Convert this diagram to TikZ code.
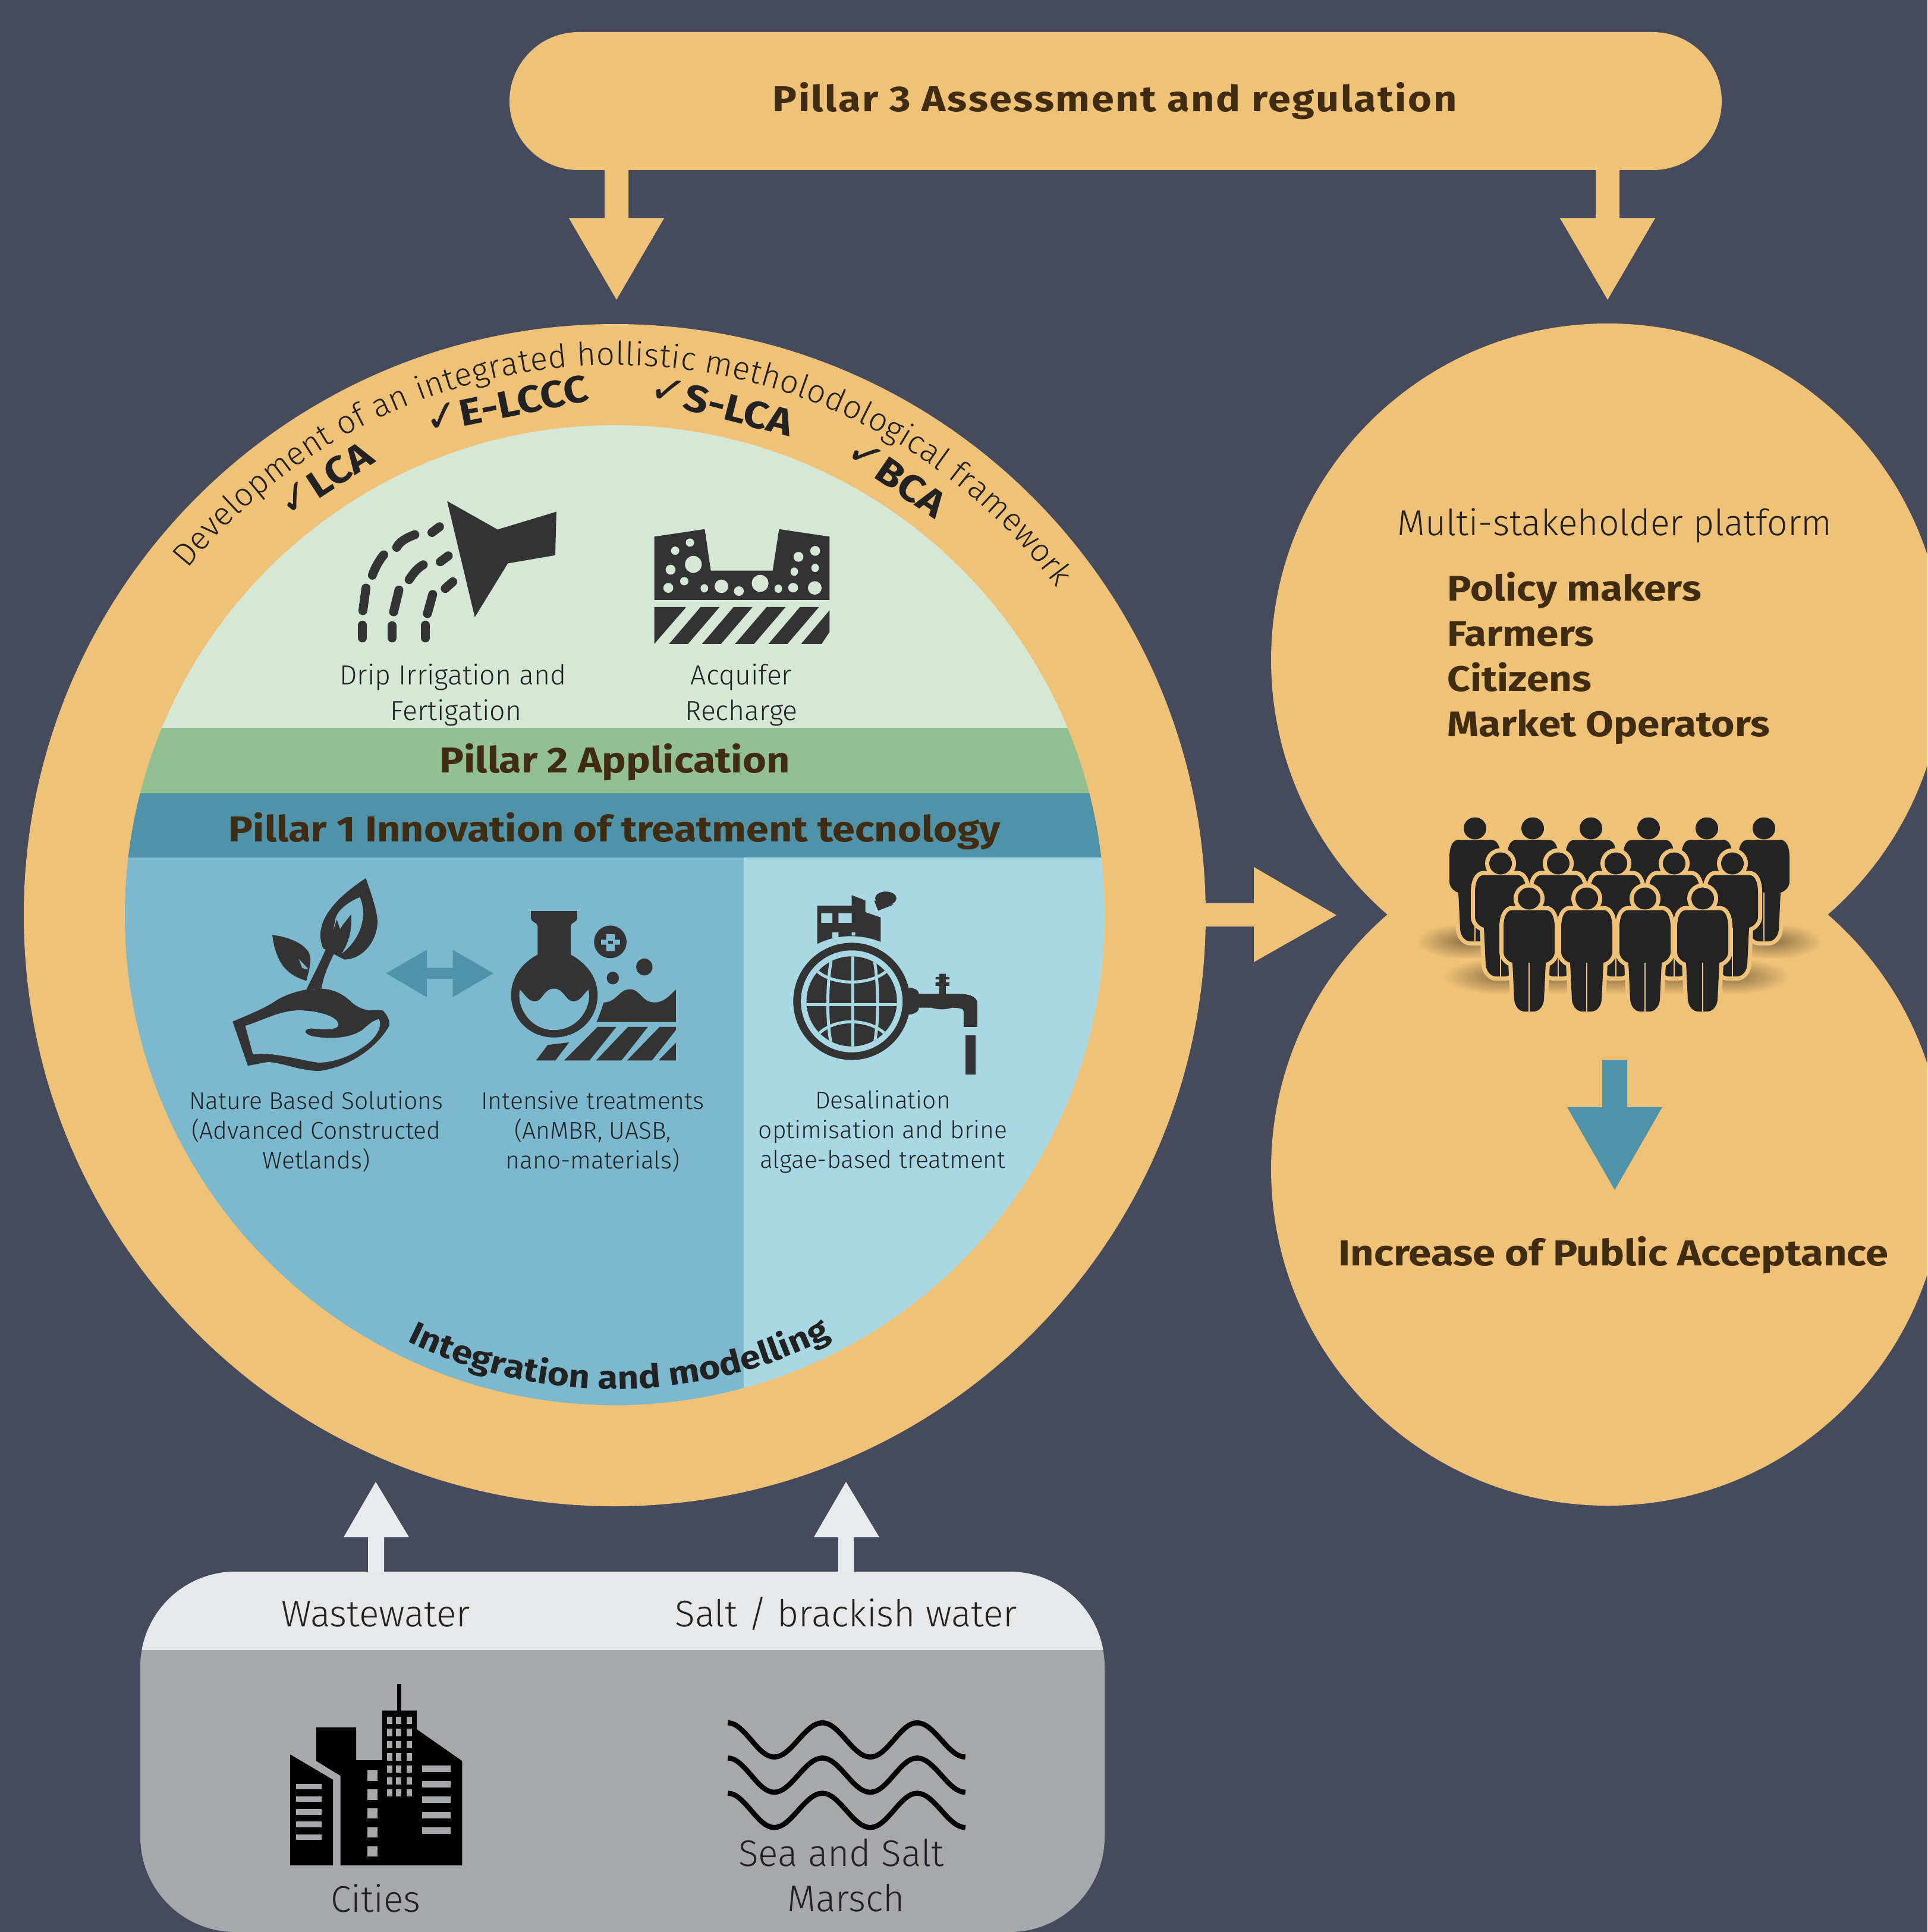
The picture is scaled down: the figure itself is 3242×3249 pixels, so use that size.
\documentclass[tikz,border=0pt]{standalone}
\usepackage{fontspec}
\usetikzlibrary{decorations.text,fadings}
\setmainfont{Fira Sans}[UprightFont=* Light,BoldFont=* Bold,BoldFeatures={FakeStretch=1.13}]
\newfontfamily\checkfont{DejaVu Sans}
\tikzfading[name=softout,inner color=transparent!0,outer color=transparent!100]
\definecolor{bgc}{HTML}{454A5C}
\definecolor{orangec}{HTML}{F0C277}
\definecolor{lgreen}{HTML}{D5E7D5}
\definecolor{mgreen}{HTML}{93C092}
\definecolor{tealc}{HTML}{5093A8}
\definecolor{bluec}{HTML}{7CB9CE}
\definecolor{lblue}{HTML}{A9D8E5}
\definecolor{iconc}{HTML}{333333}
\definecolor{textc}{HTML}{222222}
\definecolor{brownc}{HTML}{3F2C12}
\definecolor{panelc}{HTML}{A7A8AC}
\definecolor{headc}{HTML}{E7E8EA}
\definecolor{arrowc}{HTML}{E9EAEC}
\definecolor{peoplec}{HTML}{232323}
\definecolor{shadowc}{HTML}{4A3E28}
\tikzset{
  zmone/.style={shift={(500,780)},x=.006378cm,y=-.003333cm},
  zmtwo/.style={shift={(340,1450)},x=.008546cm,y=-.003571cm},
  zmfour/.style={shift={(440,2780)},x=.008292cm,y=-.003333cm},
  head/.style={font=\fontsize{17.2}{20}\selectfont\bfseries,text=brownc,inner sep=0pt},
  small/.style={font=\fontsize{11.6}{14.2}\selectfont,text=textc,align=center,inner sep=0pt},
  mid/.style={font=\fontsize{13.2}{17}\selectfont,text=textc,align=center,inner sep=0pt},
  big/.style={font=\fontsize{17.7}{21}\selectfont,text=textc,align=center,inner sep=0pt},
  stake/.style={font=\fontsize{17}{20}\selectfont\bfseries,text=brownc,anchor=base west,inner sep=0pt},
  chk/.style={font=\fontsize{18}{20}\selectfont\bfseries,text=textc,inner sep=0pt},
  drip/.style={draw=iconc,line width=.15cm,line cap=round},
  wavy/.style={draw=black,line width=.085cm},
}
\newcommand{\chkm}{{\checkfont\mdseries\fontsize{20}{20}\selectfont ✓}}
\newcommand{\bodypath}{(-28,19.5) -- (28,19.5) .. controls (38,19.5) and (43,32) .. (43,48) -- (43,90) .. controls (43,98) and (36,106) .. (28,108) -- (25,170) .. controls (24,182) and (16,190) .. (8,190) -- (-8,190) .. controls (-16,190) and (-24,182) .. (-25,170) -- (-28,108) .. controls (-36,106) and (-43,98) .. (-43,90) -- (-43,48) .. controls (-43,32) and (-38,19.5) .. (-28,19.5) -- cycle (0,0) ellipse[x radius=19,y radius=18.5]}
\newcommand{\personfig}[2]{\begin{scope}[shift={(#1,#2)}]
  \draw[orangec,line width=.14cm] \bodypath;
  \fill[peoplec] \bodypath;
  \draw[orangec,line width=.026cm] (0,108) -- (0,190);
\end{scope}}
\begin{document}
\begin{tikzpicture}[x=.01cm,y=-.01cm]
\useasboundingbox (0,0) rectangle (3242,3249);
\clip (0,0) rectangle (3242,3249);
\fill[bgc] (0,0) rectangle (3242,3249);

% top pill and arrows
\fill[orangec,rounded corners=1.16cm] (857,54) rectangle (2896,286);
\node[head] (pillar3) at (1875,170) {\addfontfeatures{LetterSpace=4.3}Pillar 3 Assessment and regulation};
\fill[orangec] (1017,280) -- (1057,280) -- (1057,367) -- (1117,367) -- (1037,504) -- (957,367) -- (1017,367) -- cycle;
\fill[orangec] (2684,280) -- (2724,280) -- (2724,367) -- (2784,367) -- (2704,504) -- (2624,367) -- (2684,367) -- cycle;

% big circle
\fill[orangec] (1034,1539) circle[radius=994];
\begin{scope}
  \clip (1034,1539) circle[radius=824];
  \fill[lgreen] (200,700) rectangle (1870,1224);
  \fill[mgreen] (200,1224) rectangle (1870,1334);
  \fill[tealc] (200,1334) rectangle (1870,1442);
  \fill[bluec] (200,1442) rectangle (1251,2370);
  \fill[lblue] (1251,1442) rectangle (1870,2370);
\end{scope}
\node[head] (pillar2) at (1034,1282) {Pillar 2 Application};
\node[head] (pillar1) at (1034,1398) {Pillar 1 Innovation of treatment tecnology};

% arc texts
\path[decorate,decoration={text along path,text align={fit to path},
  text={|\fontsize{15.5}{17}\selectfont\color{textc}|Development of an integrated hollistic metholodological framework}}]
  (1034,1539) ++(-141:925) arc[start angle=-141,end angle=-36.5,radius=925];
\path[decorate,decoration={text along path,text align=left,
  text={|\fontsize{15.6}{20}\selectfont\bfseries\color{textc}|Integration and modelling}}]
  (1034,1539) ++(116:797) arc[start angle=116,end angle=48,radius=797];
\node[chk,rotate=33] (lca) at (547,806) {\chkm LCA};
\node[chk,rotate=11.5] (elccc) at (852,680) {\chkm E-LCCC};
\node[chk,rotate=-14.5] (slca) at (1214,682) {\chkm S-LCA};
\node[chk,rotate=-34.5] (bca) at (1508,803) {\chkm BCA};

% sprinkler icon
\begin{scope}[zmone]
  \fill[iconc] (395,188) -- (528,332) -- (683,242) -- (680,462) -- (555,503) -- (468,775) -- cycle;
  \draw[drip] (375,318) -- (355,347);
  \draw[drip] (310,358) .. controls (285,375) and (270,395) .. (262,422);
  \draw[drip] (228,460) .. controls (215,490) and (205,525) .. (198,563);
  \draw[drip] (181,628) -- (173,742);
  \draw[drip] (172,815) -- (172,880);
  \draw[drip] (398,465) -- (377,495);
  \draw[drip] (332,510) .. controls (315,530) and (305,555) .. (295,585);
  \draw[drip] (268,638) -- (254,748);
  \draw[drip] (250,818) -- (250,880);
  \draw[drip] (410,596) -- (390,630);
  \draw[drip] (357,660) -- (343,757);
  \draw[drip] (338,815) -- (338,880);
  % aquifer icon
  \fill[iconc] (941,368) -- (1074,330) -- (1090,540) -- (1253,540) -- (1270,330) -- (1403,368) -- (1403,688) -- (941,688) -- cycle;
  \foreach \a/\b/\c/\d in {1035/398/11/21,996/439/11/21,984/535/13/25,1044/508/22/43,978/627/13/25,1020/593/11/21,1073/629/10/21,1118/619/18/34,1164/643/13/24,1220/604/22/43,1268/631/10/21,1307/626/13/24,1364/627/18/34,1310/545/10/21,1365/526/10/21,1321/470/13/25,1365/440/13/25}
    {\fill[lgreen] (\a,\b) ellipse[x radius=\c,y radius=\d];}
  \fill[iconc] (941,724) -- (1025,724) -- (941,910) -- cycle;
  \foreach \a in {1063,1150,1237,1325}
    {\fill[iconc] (\a,724) -- ({\a+50},724) -- ({\a-33},910) -- ({\a-83},910) -- cycle;}
  \fill[iconc] (1403,740) -- (1403,850) -- (1382,910) -- (1328,910) -- cycle;
\end{scope}
\node[mid] (drip) at (762,1169) {Drip Irrigation and\\\hspace*{.1cm}Fertigation};
\node[mid] (acq) at (1247,1169) {Acquifer\\Recharge};

% lower icons
\begin{scope}[zmtwo]
  % plant
  \fill[iconc] (60,750) .. controls (90,720) and (120,690) .. (140,660) .. controls (160,625) and (190,605) .. (205,600) -- (235,595) .. controls (265,600) and (280,630) .. (290,650) .. controls (300,675) and (315,695) .. (330,697) -- (355,697) .. controls (365,720) and (370,750) .. (368,770) .. controls (350,850) and (300,960) .. (230,983) .. controls (190,980) and (160,945) .. (130,940) -- (90,958) -- cycle;
  \fill[bluec] (85,770) .. controls (120,745) and (150,700) .. (190,697) .. controls (235,700) and (268,730) .. (268,765) .. controls (268,790) and (240,790) .. (215,782) .. controls (200,785) and (198,805) .. (215,818) .. controls (250,835) and (290,830) .. (315,790) .. controls (325,770) and (335,745) .. (348,738) .. controls (355,770) and (345,830) .. (310,880) .. controls (290,915) and (255,945) .. (228,943) .. controls (190,930) and (150,900) .. (115,902) -- (100,905) -- cycle;
  \fill[iconc] (322,75) .. controls (330,130) and (345,230) .. (345,280) .. controls (345,360) and (320,455) .. (280,458) -- (265,440) -- (238,405) .. controls (225,330) and (230,220) .. (322,75) -- cycle;
  \fill[bluec] (310,165) .. controls (285,190) and (265,230) .. (262,270) -- (252,395) -- (275,300) -- (293,245) .. controls (296,310) and (290,370) .. (275,430) .. controls (322,340) and (322,220) .. (310,165) -- cycle;
  \fill[iconc] (205,600) .. controls (225,500) and (245,420) .. (265,270) -- (275,340) .. controls (265,420) and (240,500) .. (235,595) -- cycle;
  \fill[iconc] (138,342) .. controls (180,355) and (215,400) .. (213,460) .. controls (213,490) and (208,530) .. (205,558) .. controls (165,530) and (145,470) .. (138,342) -- cycle;
  \fill[bluec] (190,455) -- (210,505) -- (197,498) -- cycle;
  % double arrow
  \fill[tealc] (362,523) -- (442,412) -- (442,497) -- (493,497) -- (493,412) -- (573,523) -- (493,635) -- (493,550) -- (442,550) -- (442,635) -- cycle;
  % flask
  \fill[iconc] (647,230) -- (738,230) -- (738,265) .. controls (738,280) and (725,285) .. (725,300) -- (725,435) .. controls (760,480) and (778,550) .. (778,625) .. controls (778,740) and (740,825) .. (692,825) .. controls (645,825) and (608,740) .. (608,625) .. controls (608,550) and (625,480) .. (660,435) -- (660,300) .. controls (660,285) and (647,280) .. (647,265) -- cycle;
  \fill[bluec] (625,600) .. controls (635,620) and (640,655) .. (655,655) .. controls (670,655) and (672,595) .. (692,595) .. controls (712,595) and (715,655) .. (730,655) .. controls (745,655) and (750,620) .. (760,600) .. controls (768,680) and (740,790) .. (692,790) .. controls (645,790) and (618,680) .. (625,600) -- cycle;
  \fill[iconc] (803,375) ellipse[x radius=32,y radius=77];
  \fill[bluec] (785,365) rectangle (822,388) (795,338) rectangle (812,418);
  \fill[iconc] (799,370) rectangle (808,383);
  \fill[iconc] (870,493) ellipse[x radius=16,y radius=40];
  \fill[iconc] (808,545) ellipse[x radius=12,y radius=30];
  \fill[iconc] (776,752) .. controls (782,720) and (786,690) .. (790,660) .. controls (815,660) and (820,598) .. (842,598) .. controls (862,598) and (865,660) .. (890,660) .. controls (910,660) and (920,625) .. (932,600) -- (932,752) -- cycle;
  \fill[iconc] (680,860) -- (722,848) -- (695,933) -- (657,933) -- cycle;
  \fill[iconc] (778,775) -- (815,775) -- (762,933) -- (712,933) -- cycle;
  \fill[iconc] (838,775) -- (877,775) -- (825,933) -- (775,933) -- cycle;
  \fill[iconc] (900,775) -- (932,775) -- (932,790) -- (885,933) -- (836,933) -- cycle;
  \fill[iconc] (932,850) -- (932,933) -- (898,933) -- cycle;
  % factory
  \fill[iconc] (1210,205) -- (1278,205) -- (1278,155) -- (1305,180) -- (1305,235) -- (1335,260) -- (1335,375) .. controls (1300,340) and (1250,335) .. (1210,385) -- cycle;
  \fill[lblue] (1218,240) rectangle (1240,285) (1252,240) rectangle (1278,285) (1240,330) rectangle (1252,355) (1278,330) rectangle (1285,345);
  \fill[iconc] (1345,170) ellipse[x radius=21,y radius=32];
  \fill[iconc] (1322,180) -- (1360,200) -- (1330,228) -- cycle;
  % faucet
  \fill[iconc] (1385,590) .. controls (1400,590) and (1410,600) .. (1410,620) -- (1490,620) .. controls (1515,620) and (1525,640) .. (1525,665) -- (1525,775) -- (1498,775) -- (1498,700) .. controls (1498,690) and (1490,685) .. (1475,685) .. controls (1460,695) and (1450,695) .. (1435,685) -- (1410,685) .. controls (1410,705) and (1400,718) .. (1385,718) -- cycle;
  \fill[iconc] (1450,525) rectangle (1463,625) (1443,540) rectangle (1470,552) (1443,565) rectangle (1470,582);
  \fill[iconc] (1502,815) rectangle (1522,998);
  % globe
  \fill[iconc] (1278,655) ellipse[x radius=115,y radius=276];
  \fill[lblue] (1278,655) ellipse[x radius=100,y radius=240];
  \fill[iconc] (1278,655) ellipse[x radius=89,y radius=212];
  \begin{scope}
    \clip (1278,655) ellipse[x radius=89,y radius=212];
    \draw[lblue,line width=.05cm] (1170,670) -- (1385,670);
    \draw[lblue,line width=.05cm] (1240,430) .. controls (1228,560) and (1228,780) .. (1240,880);
    \draw[lblue,line width=.05cm] (1320,430) .. controls (1332,560) and (1332,780) .. (1320,880);
    \draw[lblue,line width=.05cm] (1280,430) -- (1280,880);
    \draw[lblue,line width=.05cm] (1205,500) .. controls (1235,585) and (1320,585) .. (1352,500);
    \draw[lblue,line width=.05cm] (1205,830) .. controls (1235,725) and (1320,725) .. (1352,830);
  \end{scope}
\end{scope}
\node[small] (nbs) at (532,1903) {Nature Based Solutions\\(Advanced Constructed\\Wetlands)};
\node[small] (int) at (997,1903) {Intensive treatments\\(AnMBR, UASB,\\nano-materials)};
\node[small] (des) at (1485,1903) {Desalination\\optimisation and brine\\algae-based treatment};

% right arrow
\fill[orangec] (2020,1519) -- (2109,1519) -- (2109,1458) -- (2248,1539) -- (2109,1618) -- (2109,1558) -- (2020,1558) -- cycle;

% stakeholder circles
\fill[orangec] (2704,1110) circle[radius=566];
\fill[orangec] (2704,1966) circle[radius=566];
\node[big,font=\fontsize{17.25}{20}\selectfont] (msp) at (2716,884) {Multi-stakeholder platform};
\node[stake] (pm) at (2434,1010) {Policy makers};
\node[stake] (fa) at (2434,1086) {Farmers};
\node[stake] (ci) at (2434,1162) {Citizens};
\node[stake] (mo) at (2434,1238) {Market Operators};
\node[head,font=\fontsize{17.3}{20}\selectfont\bfseries] (pub) at (2714,2111) {Increase of Public Acceptance};
\fill[tealc] (2695,1782) -- (2737,1782) -- (2737,1862) -- (2796,1862) -- (2716,2001) -- (2636,1862) -- (2695,1862) -- cycle;

% shadows
\foreach \a/\b/\c in {2467/1583/85,2980/1583/85,2524/1642/95,2621/1642/80,2718/1642/80,2816/1642/80,2914/1642/95}
  {\fill[shadowc,path fading=softout,opacity=.6] (\a,\b) ellipse[x radius=\c,y radius=30];}
% people
\foreach \a in {2481,2578,2676,2773,2871,2967} {\personfig{\a}{1393}}
\foreach \a in {2524,2621,2718,2816,2914} {\personfig{\a}{1452}}
\foreach \a in {2572,2669,2767,2864} {\personfig{\a}{1511}}

% bottom panel
\fill[panelc,rounded corners=1.6cm] (236,2643) rectangle (1858,3249);
\begin{scope}
  \clip (200,2600) rectangle (1900,2774);
  \fill[headc,rounded corners=1.6cm] (236,2643) rectangle (1858,3249);
\end{scope}
\fill[arrowc] (619,2643) -- (619,2585) -- (578,2585) -- (632,2492) -- (688,2585) -- (646,2585) -- (646,2643) -- cycle;
\fill[arrowc] (1410,2643) -- (1410,2585) -- (1369,2585) -- (1423,2492) -- (1479,2585) -- (1436,2585) -- (1436,2643) -- cycle;
\node[big] (ww) at (632,2714) {Wastewater};
\node[big] (sw) at (1423,2714) {Salt / brackish water};
\begin{scope}[zmfour]
  \fill[black] (58,512) -- (145,640) -- (145,1072) -- (58,1072) -- cycle;
  \foreach \b in {660,724,788,851,915} {\fill[panelc] (70,\b) rectangle (122,{\b+28});}
  \fill[black] (111,375) -- (192,375) -- (192,541) -- (245,541) -- (245,290) -- (315,290) -- (315,385) -- (407,545) -- (407,1072) -- (160,1072) -- (160,620) -- (111,545) -- cycle;
  \fill[black] (275,155) rectangle (283,290);
  \foreach \b in {321,383,445,506,567,628,688} {\foreach \a in {254,273,294} {\fill[panelc] (\a,\b) rectangle ({\a+11},{\b+37});}}
  \foreach \b in {593,689,784,880,975} {\fill[panelc] (215,\b) rectangle (235,{\b+52});}
  \foreach \b in {567,645,723,801,879} {\fill[panelc] (326,\b) rectangle (384,{\b+35});}
  \foreach \d in {0,178,356}
    {\draw[wavy] (946,{352+\d}) cos (993,{438+\d}) sin (1040,{525+\d}) cos (1089,{438+\d}) sin (1138,{352+\d}) cos (1186,{438+\d}) sin (1235,{525+\d}) cos (1283,{438+\d}) sin (1330,{352+\d}) cos (1379,{438+\d}) sin (1428,{525+\d});}
\end{scope}
\node[big] (cities) at (632,3192) {Cities};
\node[big] (sea) at (1415,3116) {Sea and Salt};
\node[big] (marsch) at (1423,3192) {Marsch};
\end{tikzpicture}
\end{document}
